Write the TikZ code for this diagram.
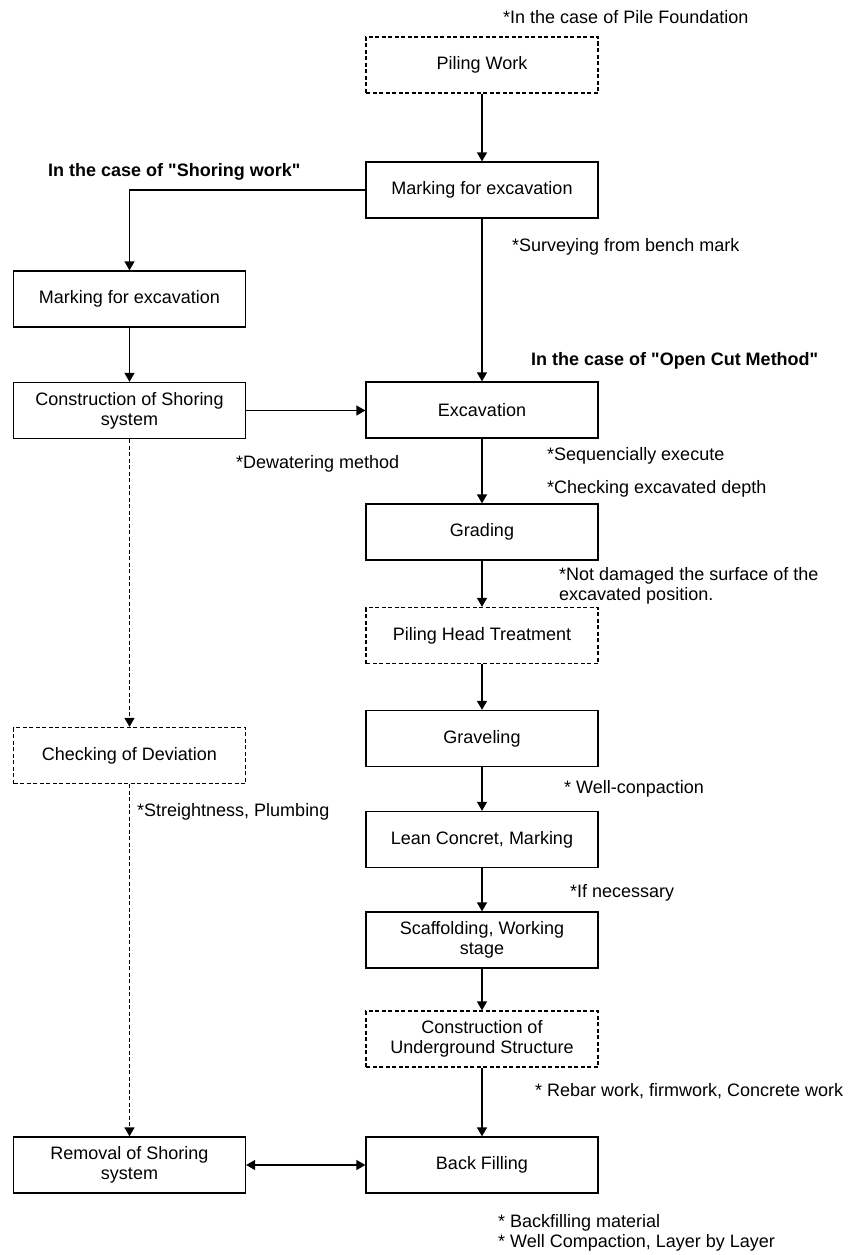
\documentclass[tikz,border=0pt]{standalone}
\usepackage{fontspec}
\setmainfont{Liberation Sans}
\usepackage{tikz}
\usetikzlibrary{arrows.meta, positioning}
\tikzset{
  proc/.style={draw, line width=1.3pt, minimum width=232pt, minimum height=56pt,
               align=center, inner sep=2pt, font=\fontsize{18}{20}\selectfont},
  optproc/.style={proc, dash pattern=on 4pt off 2.5pt},
  note/.style={anchor=west, inner sep=0pt, align=left, font=\fontsize{18}{20}\selectfont},
  casenote/.style={note, font=\fontsize{18}{20}\selectfont\bfseries},
  flow/.style={-{Triangle[length=9pt,width=10pt]}, line width=1.3pt},
  optflow/.style={flow, dash pattern=on 4pt off 2.5pt},
}

\begin{document}
\begin{tikzpicture}[x=1pt, y=-1pt]
\useasboundingbox (0,0) rectangle (848,1255);
% right column
\node[optproc] (pile) at (482,65) {Piling Work};
\node[proc] (markR) at (482,190) {Marking for excavation};
\node[proc] (excav) at (482,410) {Excavation};
\node[proc] (grading) at (482,532) {Grading};
\node[optproc] (pilehead) at (482,635.5) {Piling Head Treatment};
\node[proc] (gravel) at (482,738.5) {Graveling};
\node[proc] (lean) at (482,839.5) {Lean Concret, Marking};
\node[proc] (scaff) at (482,940) {Scaffolding, Working\\stage};
\node[optproc] (underground) at (482,1039) {Construction of\\Underground Structure};
\node[proc] (backfill) at (482,1165) {Back Filling};
% left column
\node[proc] (markL) at (129.5,299) {Marking for excavation};
\node[proc] (shore) at (129.5,410.5) {Construction of Shoring\\system};
\node[optproc] (deviation) at (129.5,755.5) {Checking of Deviation};
\node[proc] (removal) at (129.5,1165) {Removal of Shoring\\system};
% notes
\node[note] (pilenote) at (503,17) {*In the case of Pile Foundation};
\node[casenote] (shorecase) at (48,172) {In the case of \textquotedbl Shoring work\textquotedbl};
\node[note] (surveynote) at (512,247) {*Surveying from bench mark};
\node[casenote] (opencase) at (531,361) {In the case of \textquotedbl Open Cut Method\textquotedbl};
\node[note] (seqnote) at (547,456) {*Sequencially execute};
\node[note] (depthnote) at (547,489) {*Checking excavated depth};
\node[note] (dewnote) at (236,464) {*Dewatering method};
\node[note] (surfnote) at (559,586) {*Not damaged the surface of the\\excavated position.};
\node[note] (compnote) at (564,789) {* Well-conpaction};
\node[note] (plumbnote) at (137,812) {*Streightness, Plumbing};
\node[note] (neednote) at (570,893) {*If necessary};
\node[note] (rebarnote) at (535,1091) {* Rebar work, firmwork, Concrete work};
\node[note] (fillnote) at (498,1233) {* Backfilling material\\* Well Compaction, Layer by Layer};
% connectors
\draw[flow] (pile) -- (markR);
\draw[flow] (markR.west) -| (markL.north);
\draw[flow] (markL) -- (shore);
\draw[flow] (markR) -- (excav);
\draw[flow] (shore.east) -- (shore.east -| excav.west);
\draw[flow] (excav) -- (grading);
\draw[flow] (grading) -- (pilehead);
\draw[flow] (pilehead) -- (gravel);
\draw[flow] (gravel) -- (lean);
\draw[flow] (lean) -- (scaff);
\draw[flow] (scaff) -- (underground);
\draw[flow] (underground) -- (backfill);
\draw[optflow] (shore) -- (deviation);
\draw[optflow] (deviation) -- (removal);
\draw[flow, {Triangle[length=9pt,width=10pt]}-{Triangle[length=9pt,width=10pt]}] (removal) -- (backfill);
\end{tikzpicture}
\end{document}
